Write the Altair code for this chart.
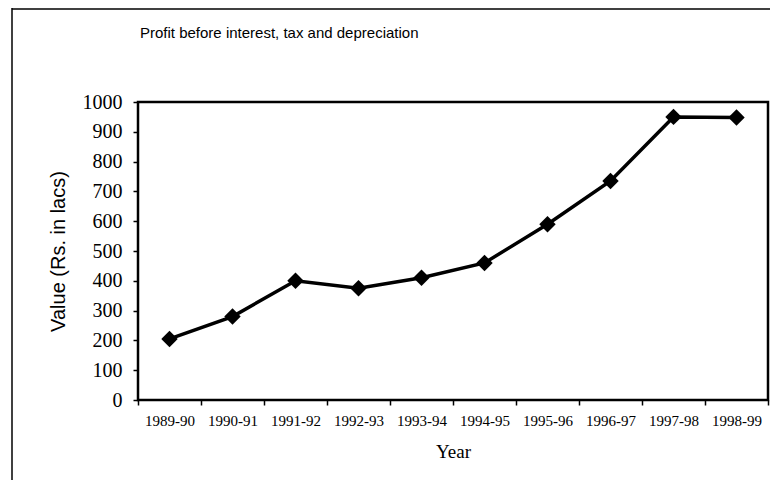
import altair as alt
import pandas as pd

years = ["1989-90", "1990-91", "1991-92", "1992-93", "1993-94",
         "1994-95", "1995-96", "1996-97", "1997-98", "1998-99"]
values = [205, 280, 400, 375, 410, 460, 590, 735, 950, 948]
y_ticks = [0, 100, 200, 300, 400, 500, 600, 700, 800, 900, 1000]
title_text = "Profit before interest, tax and depreciation"

df = pd.DataFrame({"Year": years, "Value": values})

serif = "Liberation Serif"
sans = "Liberation Sans"

x_enc = alt.X("Year:N", sort=years,
              scale=alt.Scale(domain=years, paddingInner=0, paddingOuter=0),
              axis=alt.Axis(title="Year", titleFont=serif, titleFontSize=19,
                            titleFontWeight="normal", titleColor="black",
                            titlePadding=14, labelFont=serif, labelFontSize=15,
                            labelColor="black", labelAngle=0, labelPadding=8,
                            ticks=True, tickBand="extent", tickSize=5,
                            tickColor="black", tickWidth=1.5, domain=False))
y_enc = alt.Y("Value:Q", scale=alt.Scale(domain=[0, 1000], nice=False),
              axis=alt.Axis(title="Value (Rs. in lacs)", titleFont=sans,
                            titleFontSize=20, titleFontWeight="normal",
                            titleColor="black", titlePadding=14,
                            values=y_ticks, format="d", labelFont=serif,
                            labelFontSize=20, labelColor="black",
                            labelPadding=11, tickSize=5, tickColor="black",
                            tickWidth=1.5, grid=False, domain=False))

base = alt.Chart(df)

line = base.mark_line(color="black", strokeWidth=3.5).encode(x=x_enc, y=y_enc)
points = base.mark_point(shape="diamond", filled=True, color="black",
                         size=270, opacity=1).encode(x=x_enc, y=y_enc)

one = pd.DataFrame({"t": [title_text]})
plot_frame = alt.Chart(one).mark_rect(fill=None, stroke="black",
                                      strokeWidth=2.5).encode(
    x=alt.value(0), x2=alt.value(630), y=alt.value(0), y2=alt.value(298))
frame_left = alt.Chart(one).mark_rule(color="black", strokeWidth=1.5).encode(
    x=alt.value(-126), y=alt.value(-94), y2=alt.value(420))
frame_top = alt.Chart(one).mark_rule(color="black", strokeWidth=1.5).encode(
    x=alt.value(-126), x2=alt.value(660), y=alt.value(-93))
title = alt.Chart(one).mark_text(font=sans, fontSize=15, color="black",
                                 align="left", baseline="alphabetic").encode(
    text="t:N", x=alt.value(2), y=alt.value(-64))

chart = alt.layer(frame_left, frame_top, title, line, points, plot_frame).properties(
    width=630,
    height=298,
    autosize=alt.AutoSizeParams(type="none"),
    padding={"left": 130, "top": 94, "right": 2, "bottom": 80},
).configure_view(
    stroke=None
).configure(background="white")

chart.save("out.html", embed_options={"renderer": "svg", "actions": False})
